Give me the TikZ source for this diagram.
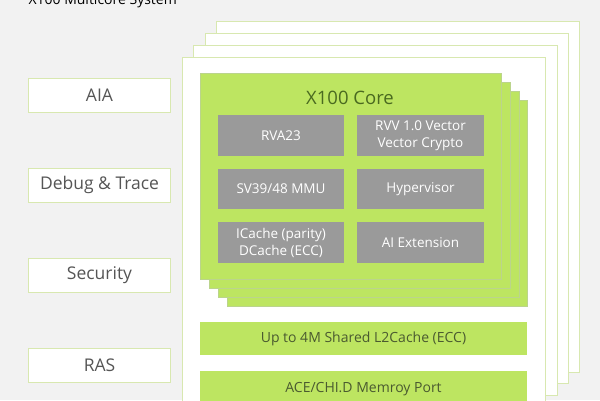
\documentclass[tikz,border=0pt]{standalone}
\usepackage{fontspec}
\setmainfont{Open Sans}
\begin{document}
\begin{tikzpicture}[x=1pt,y=-1pt,
  frame/.style={draw=gLine,fill=white,line width=0.8pt},
  core/.style={draw=gDark!60,fill=gMain,line width=0.6pt},
  gbox/.style={fill=gGray,text=white,font=\fontsize{13.5}{17}\selectfont,align=center},
  lbox/.style={draw=gLine,fill=white,line width=1pt,text=tGray,font=\fontsize{17.5}{20}\selectfont},
  bar/.style={fill=gMain,text=gText,font=\fontsize{14}{16}\selectfont}]
\definecolor{bg}{HTML}{F2F2F2}
\definecolor{gLine}{HTML}{D8E8B0}
\definecolor{gMain}{HTML}{BDE561}
\definecolor{gDark}{HTML}{8DB840}
\definecolor{gGray}{HTML}{9A9A9A}
\definecolor{tGray}{HTML}{555555}
\definecolor{gText}{HTML}{4A5A30}
\definecolor{cText}{HTML}{4A6A20}
\fill[bg] (0,0) rectangle (600,400);
\clip (0,0) rectangle (600,400);
\useasboundingbox (0,0) rectangle (600,400);
\node[anchor=west,font=\fontsize{14}{16}\selectfont,text=black] (title) at (25,1) {X100 Multicore System};
\draw[frame] (216,21) rectangle (579,372);
\draw[frame] (205,33) rectangle (568,383);
\draw[frame] (193,45) rectangle (557,395);
\draw[frame] (182,57) rectangle (545,410);
\draw[core] (227,100) rectangle (527,306);
\draw[core] (218,91) rectangle (519,297);
\draw[core] (209,82) rectangle (510,288);
\draw[core] (200,73) rectangle (501,279);
\node[font=\fontsize{18.5}{20}\selectfont,text=cText] (ct) at (350,98) {X100 Core};
\node[gbox,minimum width=126pt,minimum height=41pt] (b1) at (281,135.5) {RVA23};
\node[gbox,minimum width=127pt,minimum height=41pt] (b2) at (420.5,135.5) {RVV 1.0 Vector\\Vector Crypto};
\node[gbox,minimum width=126pt,minimum height=40pt] (b3) at (281,189) {SV39/48 MMU};
\node[gbox,minimum width=127pt,minimum height=40pt] (b4) at (420.5,189) {Hypervisor};
\node[gbox,minimum width=126pt,minimum height=41pt] (b5) at (281,242.5) {ICache (parity)\\DCache (ECC)};
\node[gbox,minimum width=127pt,minimum height=41pt] (b6) at (420.5,242.5) {AI Extension};
\node[bar,minimum width=327pt,minimum height=33pt] (l2) at (363.5,338.5) {Up to 4M Shared L2Cache (ECC)};
\node[bar,minimum width=327pt,minimum height=40pt,anchor=north] (ace) at (363.5,371) {};
\node[text=gText,font=\fontsize{14}{16}\selectfont] (acet) at (363.5,389) {ACE/CHI.D Memroy Port};
\node[lbox,minimum width=142pt,minimum height=34pt] (aia) at (99.5,95) {AIA};
\node[lbox,minimum width=142pt,minimum height=34pt] (dbg) at (99.5,185) {Debug \& Trace};
\node[lbox,minimum width=142pt,minimum height=34pt] (sec) at (99.5,275) {Security};
\node[lbox,minimum width=142pt,minimum height=34pt] (ras) at (99.5,365) {RAS};
\end{tikzpicture}
\end{document}
